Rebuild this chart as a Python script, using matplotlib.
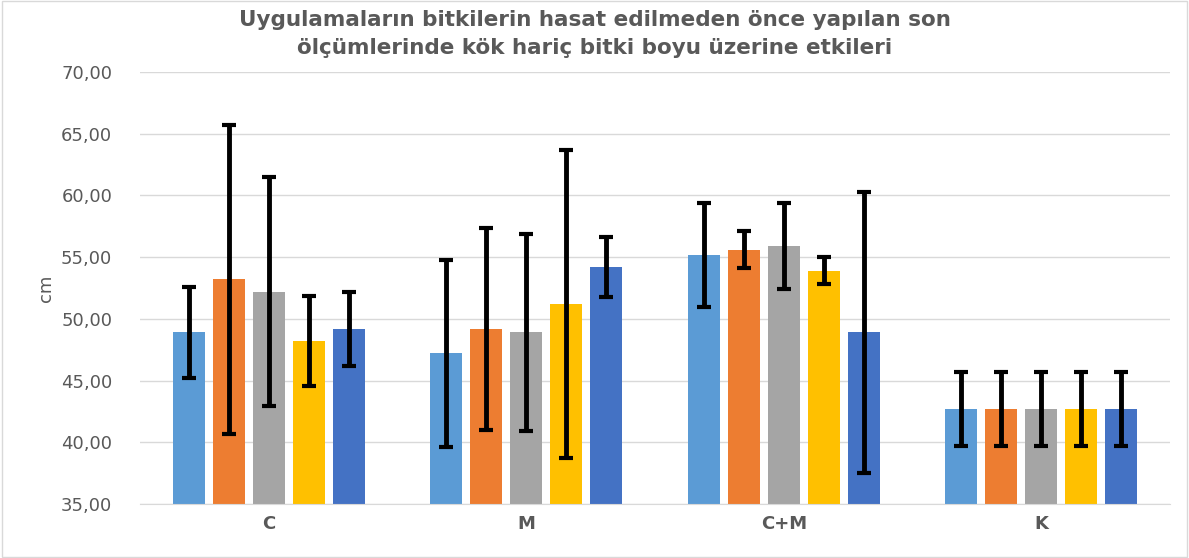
import matplotlib
matplotlib.use("Agg")
import matplotlib.pyplot as plt
import numpy as np
from matplotlib.ticker import FuncFormatter

categories = ["C", "M", "C+M", "K"]
series1 = [48.9, 47.2, 55.2, 42.7]
series2 = [53.2, 49.2, 55.6, 42.7]
series3 = [52.2, 48.9, 55.9, 42.7]
series4 = [48.2, 51.2, 53.9, 42.7]
series5 = [49.2, 54.2, 48.9, 42.7]
err1 = [3.7, 7.6, 4.2, 3.0]
err2 = [12.5, 8.2, 1.5, 3.0]
err3 = [9.3, 8.0, 3.5, 3.0]
err4 = [3.65, 12.5, 1.1, 3.0]
err5 = [3.0, 2.4, 11.4, 3.0]

colors = ["#5B9BD5", "#ED7D31", "#A5A5A5", "#FFC000", "#4472C4"]
series = [series1, series2, series3, series4, series5]
errs = [err1, err2, err3, err4, err5]

fig = plt.figure(figsize=(11.89, 5.58), dpi=100)
ax = fig.add_axes([140/1189, 1-504/558, 1030/1189, 432/558])

x = np.arange(len(categories))
w = 0.124
step = 0.155
for i, (vals, e, c) in enumerate(zip(series, errs, colors)):
    pos = x + (i - 2) * step
    ax.bar(pos, np.array(vals) - 35, bottom=35, width=w, color=c, zorder=2)
    ax.errorbar(pos, vals, yerr=e, fmt="none", ecolor="black", elinewidth=3.5,
                capsize=5, capthick=3, zorder=3)

ax.set_ylim(35, 70)
ax.set_xlim(-0.5, 3.5)
ax.set_yticks(np.arange(35, 70.1, 5))
ax.yaxis.set_major_formatter(FuncFormatter(lambda v, p: f"{v:.2f}".replace(".", ",")))
ax.set_xticks(x)
ax.set_xticklabels(categories, fontweight="bold")
ax.grid(axis="y", color="#D9D9D9", linewidth=1, zorder=0)
for s in ["top", "right", "left"]:
    ax.spines[s].set_visible(False)
ax.spines["bottom"].set_color("#D9D9D9")
ax.tick_params(axis="both", length=0, colors="#595959", labelsize=13)
ax.tick_params(axis="y", pad=20)
ax.tick_params(axis="x", pad=8)
ax.set_ylabel("cm", color="#595959", fontsize=13, labelpad=4)

fig.text(0.5, 1-34/558, "Uygulamaların bitkilerin hasat edilmeden önce yapılan son\nölçümlerinde kök hariç bitki boyu üzerine etkileri",
         ha="center", va="center", fontsize=15.5, fontweight="bold", color="#595959", linespacing=1.45)

border = plt.Rectangle((0.002, 0.002), 0.996, 0.996, transform=fig.transFigure,
                       fill=False, edgecolor="#D9D9D9", linewidth=1)
fig.patches.append(border)

fig.savefig("out.png", dpi=100)
